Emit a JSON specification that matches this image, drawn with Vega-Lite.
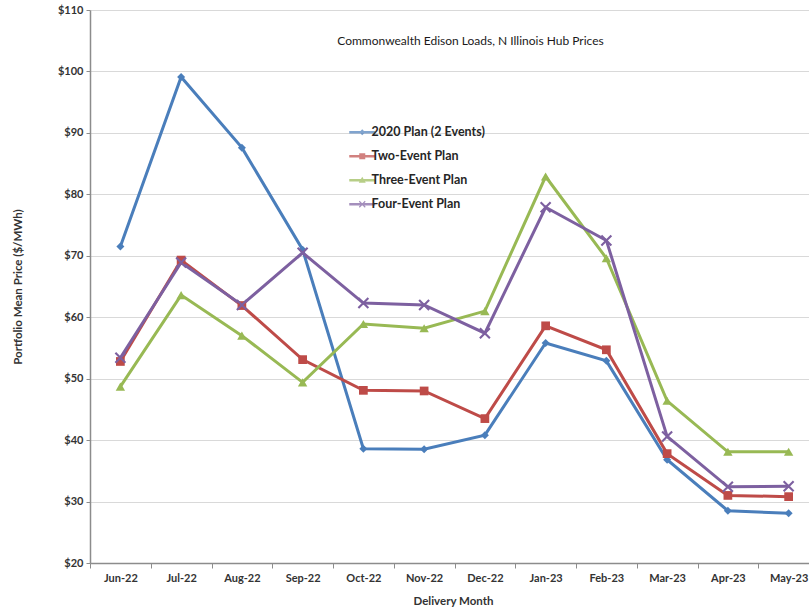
{
  "$schema": "https://vega.github.io/schema/vega-lite/v6.json",
  "width": 719,
  "height": 553,
  "autosize": {"type": "none"},
  "padding": {"left": 90, "top": 10, "right": 0, "bottom": 48},
  "background": "white",
  "title": {
    "text": "Commonwealth Edison Loads, N Illinois Hub Prices",
    "orient": "top",
    "anchor": "middle",
    "frame": "group",
    "offset": 0,
    "baseline": "middle",
    "dx": 21,
    "dy": 49,
    "font": "Lato",
    "fontSize": 12,
    "fontWeight": "normal",
    "color": "#1a1a1a"
  },
  "config": {
    "view": {"stroke": null},
    "axis": {
      "labelFont": "Lato",
      "labelFontWeight": "bold",
      "labelFontSize": 11,
      "labelColor": "#333333",
      "titleFont": "Lato",
      "titleFontWeight": "bold",
      "titleFontSize": 11,
      "titleColor": "#333333",
      "gridColor": "#d9d9d9",
      "gridWidth": 1,
      "domainColor": "#8c8c8c",
      "domainWidth": 1.5,
      "tickColor": "#8c8c8c",
      "tickSize": 4
    }
  },
  "data": {
    "values": [
      {"month": "Jun-22", "series": "2020 Plan (2 Events)", "price": 71.5},
      {"month": "Jul-22", "series": "2020 Plan (2 Events)", "price": 99.1},
      {"month": "Aug-22", "series": "2020 Plan (2 Events)", "price": 87.6},
      {"month": "Sep-22", "series": "2020 Plan (2 Events)", "price": 71.0},
      {"month": "Oct-22", "series": "2020 Plan (2 Events)", "price": 38.6},
      {"month": "Nov-22", "series": "2020 Plan (2 Events)", "price": 38.5},
      {"month": "Dec-22", "series": "2020 Plan (2 Events)", "price": 40.8},
      {"month": "Jan-23", "series": "2020 Plan (2 Events)", "price": 55.8},
      {"month": "Feb-23", "series": "2020 Plan (2 Events)", "price": 52.9},
      {"month": "Mar-23", "series": "2020 Plan (2 Events)", "price": 36.8},
      {"month": "Apr-23", "series": "2020 Plan (2 Events)", "price": 28.5},
      {"month": "May-23", "series": "2020 Plan (2 Events)", "price": 28.1},
      {"month": "Jun-22", "series": "Two-Event Plan", "price": 52.8},
      {"month": "Jul-22", "series": "Two-Event Plan", "price": 69.3},
      {"month": "Aug-22", "series": "Two-Event Plan", "price": 61.9},
      {"month": "Sep-22", "series": "Two-Event Plan", "price": 53.1},
      {"month": "Oct-22", "series": "Two-Event Plan", "price": 48.1},
      {"month": "Nov-22", "series": "Two-Event Plan", "price": 48.0},
      {"month": "Dec-22", "series": "Two-Event Plan", "price": 43.5},
      {"month": "Jan-23", "series": "Two-Event Plan", "price": 58.6},
      {"month": "Feb-23", "series": "Two-Event Plan", "price": 54.7},
      {"month": "Mar-23", "series": "Two-Event Plan", "price": 37.8},
      {"month": "Apr-23", "series": "Two-Event Plan", "price": 31.0},
      {"month": "May-23", "series": "Two-Event Plan", "price": 30.8},
      {"month": "Jun-22", "series": "Three-Event Plan", "price": 48.7},
      {"month": "Jul-22", "series": "Three-Event Plan", "price": 63.6},
      {"month": "Aug-22", "series": "Three-Event Plan", "price": 57.0},
      {"month": "Sep-22", "series": "Three-Event Plan", "price": 49.4},
      {"month": "Oct-22", "series": "Three-Event Plan", "price": 58.9},
      {"month": "Nov-22", "series": "Three-Event Plan", "price": 58.2},
      {"month": "Dec-22", "series": "Three-Event Plan", "price": 61.0},
      {"month": "Jan-23", "series": "Three-Event Plan", "price": 82.9},
      {"month": "Feb-23", "series": "Three-Event Plan", "price": 69.6},
      {"month": "Mar-23", "series": "Three-Event Plan", "price": 46.4},
      {"month": "Apr-23", "series": "Three-Event Plan", "price": 38.1},
      {"month": "May-23", "series": "Three-Event Plan", "price": 38.1},
      {"month": "Jun-22", "series": "Four-Event Plan", "price": 53.4},
      {"month": "Jul-22", "series": "Four-Event Plan", "price": 68.9},
      {"month": "Aug-22", "series": "Four-Event Plan", "price": 62.0},
      {"month": "Sep-22", "series": "Four-Event Plan", "price": 70.5},
      {"month": "Oct-22", "series": "Four-Event Plan", "price": 62.3},
      {"month": "Nov-22", "series": "Four-Event Plan", "price": 62.0},
      {"month": "Dec-22", "series": "Four-Event Plan", "price": 57.4},
      {"month": "Jan-23", "series": "Four-Event Plan", "price": 77.9},
      {"month": "Feb-23", "series": "Four-Event Plan", "price": 72.5},
      {"month": "Mar-23", "series": "Four-Event Plan", "price": 40.6},
      {"month": "Apr-23", "series": "Four-Event Plan", "price": 32.4},
      {"month": "May-23", "series": "Four-Event Plan", "price": 32.5}
    ]
  },
  "encoding": {
    "x": {
      "field": "month",
      "type": "nominal",
      "scale": {
        "type": "band",
        "domain": ["Jun-22", "Jul-22", "Aug-22", "Sep-22", "Oct-22", "Nov-22", "Dec-22", "Jan-23", "Feb-23", "Mar-23", "Apr-23", "May-23"],
        "range": [0, 729],
        "paddingInner": 0,
        "paddingOuter": 0
      },
      "axis": {
        "title": "Delivery Month",
        "tickBand": "extent",
        "labelAngle": 0,
        "labelPadding": 4,
        "tickSize": 5,
        "titleX": 363,
        "titleY": 38,
        "titleAnchor": "middle",
        "titleAlign": "center",
        "titleBaseline": "middle",
        "titleFontSize": 11.5
      }
    },
    "y": {
      "field": "price",
      "type": "quantitative",
      "scale": {"domain": [20, 110], "nice": false, "zero": false},
      "axis": {
        "title": "Portfolio Mean Price ($/MWh)",
        "values": [20, 30, 40, 50, 60, 70, 80, 90, 100, 110],
        "format": "$.0f",
        "labelPadding": 3,
        "titleX": -72,
        "titleY": 276.5,
        "titleAngle": 270,
        "titleAlign": "center",
        "titleBaseline": "middle",
        "titleFontSize": 11.5
      }
    }
  },
  "layer": [
    {
      "mark": {"type": "line", "strokeWidth": 3},
      "encoding": {
        "color": {
          "field": "series",
          "type": "nominal",
          "scale": {
            "domain": ["2020 Plan (2 Events)", "Two-Event Plan", "Three-Event Plan", "Four-Event Plan"],
            "range": ["#4a7ebb", "#be4b48", "#98b954", "#7d60a0"]
          },
          "legend": null
        }
      }
    },
    {
      "mark": {"type": "point", "filled": true, "opacity": 1},
      "encoding": {
        "color": {
          "field": "series",
          "type": "nominal",
          "scale": {
            "domain": ["2020 Plan (2 Events)", "Two-Event Plan", "Three-Event Plan", "Four-Event Plan"],
            "range": ["#4a7ebb", "#be4b48", "#98b954", "#7d60a0"]
          },
          "legend": null
        },
        "shape": {
          "field": "series",
          "type": "nominal",
          "scale": {
            "domain": ["2020 Plan (2 Events)", "Two-Event Plan", "Three-Event Plan", "Four-Event Plan"],
            "range": ["diamond", "square", "triangle-up", "M-1.15,-0.85L-0.85,-1.15L1.15,0.85L0.85,1.15ZM-1.15,0.85L0.85,-1.15L1.15,-0.85L-0.85,1.15Z"]
          },
          "legend": null
        },
        "size": {
          "field": "series",
          "type": "nominal",
          "scale": {
            "domain": ["2020 Plan (2 Events)", "Two-Event Plan", "Three-Event Plan", "Four-Event Plan"],
            "range": [64, 100, 81, 30]
          },
          "legend": null
        }
      }
    },
    {
      "transform": [{"filter": "false"}],
      "mark": {"type": "point", "filled": true},
      "encoding": {
        "color": {
          "field": "series",
          "type": "nominal",
          "scale": {
            "domain": ["2020 Plan (2 Events)", "Two-Event Plan", "Three-Event Plan", "Four-Event Plan"],
            "range": ["#4a7ebb", "#be4b48", "#98b954", "#7d60a0"]
          },
          "legend": {
            "title": null,
            "orient": "none",
            "legendX": 266,
            "legendY": 116,
            "symbolSize": 4,
            "labelFont": "Lato",
            "labelFontWeight": "bold",
            "labelFontSize": 12.5,
            "labelColor": "#262626",
            "labelOffset": 3,
            "rowPadding": 11,
            "symbolStrokeWidth": 0
          }
        },
        "shape": {
          "field": "series",
          "type": "nominal",
          "scale": {
            "domain": ["2020 Plan (2 Events)", "Two-Event Plan", "Three-Event Plan", "Four-Event Plan"],
            "range": [
              "M-13,-1.25L13,-1.25L13,1.25L-13,1.25ZM-3,0L0,-3L3,0L0,3Z",
              "M-13,-1.25L13,-1.25L13,1.25L-13,1.25ZM-3,-3L3,-3L3,3L-3,3Z",
              "M-13,-1.25L13,-1.25L13,1.25L-13,1.25ZM0,-3.5L3.5,2.5L-3.5,2.5Z",
              "M-13,-1.25L13,-1.25L13,1.25L-13,1.25ZM-3.4,-2.6L-2.6,-3.4L3.4,2.6L2.6,3.4ZM-3.4,2.6L2.6,-3.4L3.4,-2.6L-2.6,3.4Z"
            ]
          },
          "legend": {
            "title": null,
            "orient": "none",
            "legendX": 266,
            "legendY": 116,
            "symbolSize": 4,
            "labelFont": "Lato",
            "labelFontWeight": "bold",
            "labelFontSize": 12.5,
            "labelColor": "#262626",
            "labelOffset": 3,
            "rowPadding": 11,
            "symbolStrokeWidth": 0
          }
        }
      }
    }
  ],
  "resolve": {"scale": {"shape": "independent", "color": "independent", "size": "independent"}}
}
